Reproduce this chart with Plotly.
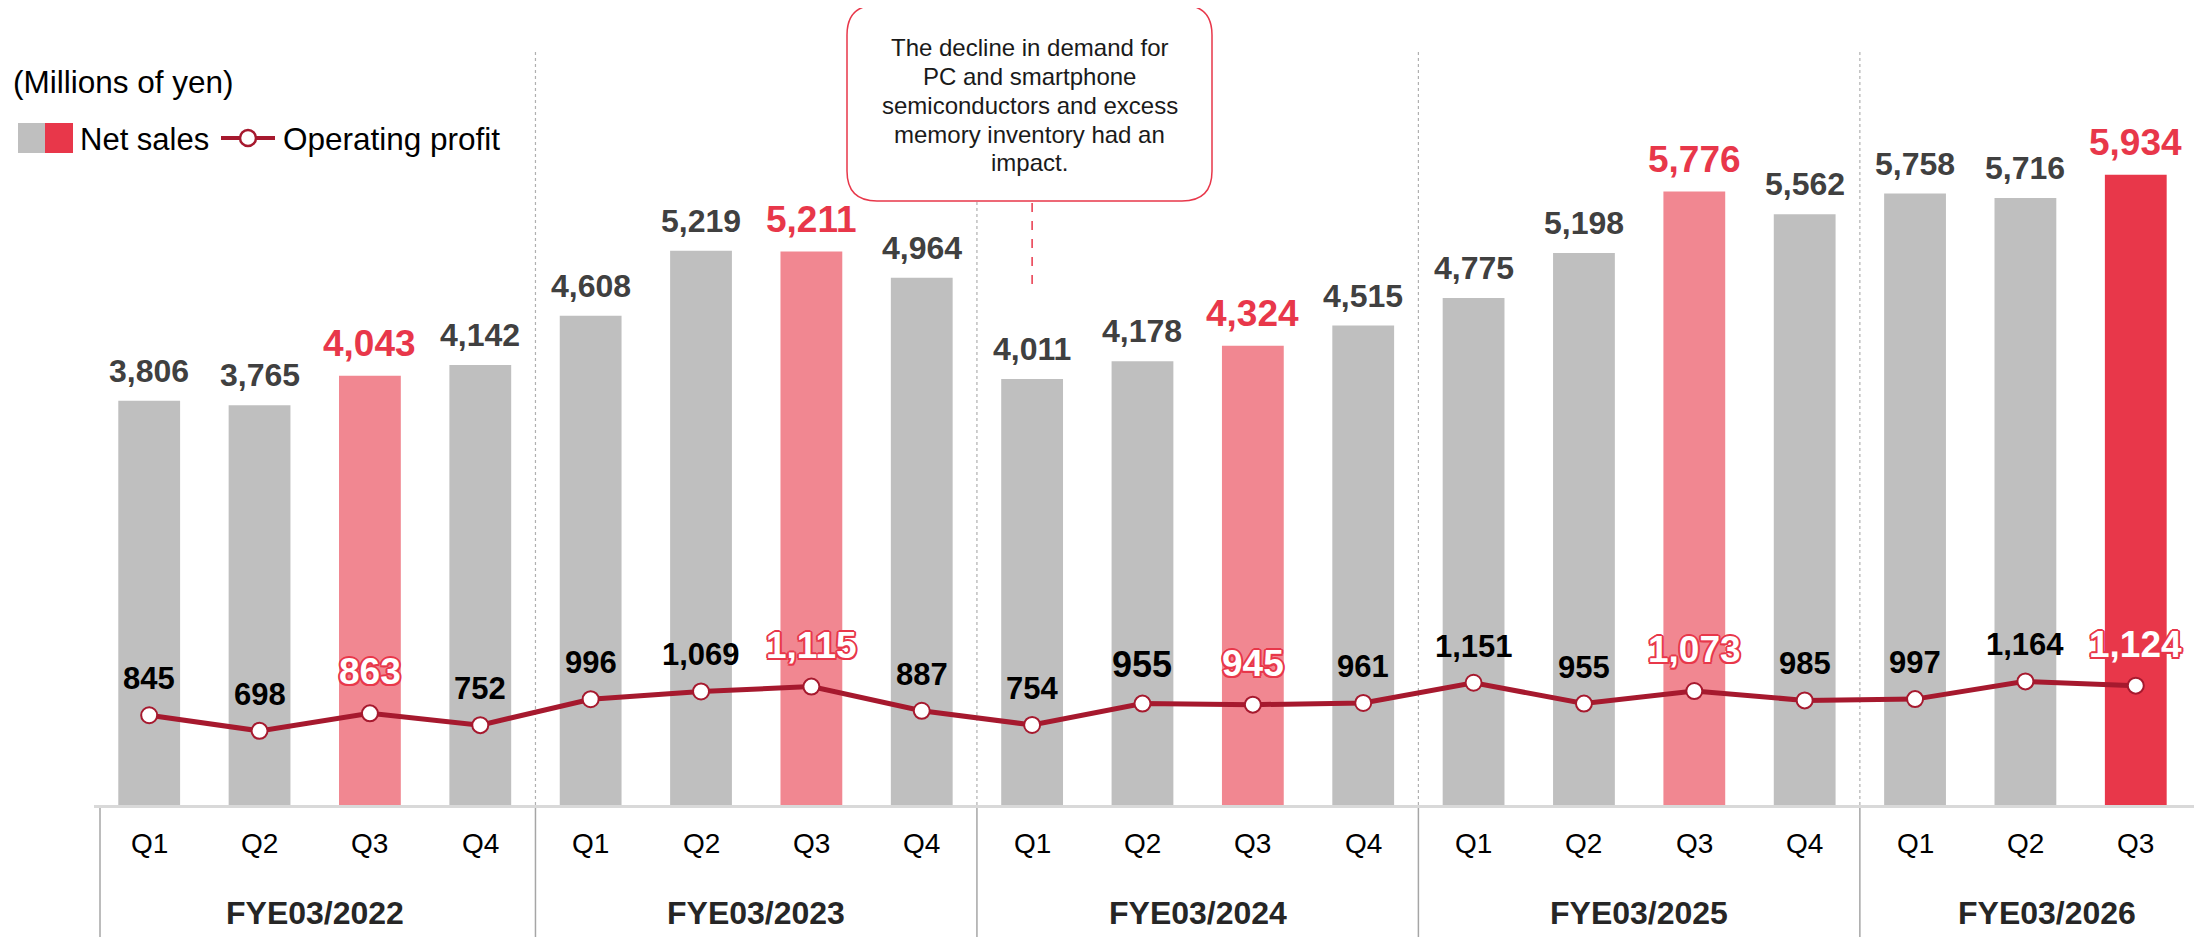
import plotly.graph_objects as go

# ---------------- data ----------------
fiscal_years = ["FYE03/2022", "FYE03/2023", "FYE03/2024", "FYE03/2025", "FYE03/2026"]
quarters_per_year = [4, 4, 4, 4, 3]
quarter_names = ["Q1", "Q2", "Q3", "Q4"]
net_sales = [3806, 3765, 4043, 4142,
             4608, 5219, 5211, 4964,
             4011, 4178, 4324, 4515,
             4775, 5198, 5776, 5562,
             5758, 5716, 5934]
operating_profit = [845, 698, 863, 752,
                    996, 1069, 1115, 887,
                    754, 955, 945, 961,
                    1151, 955, 1073, 985,
                    997, 1164, 1124]
callout_lines = ["The decline in demand for", "PC and smartphone",
                 "semiconductors and excess", "memory inventory had an", "impact."]
unit_label = "(Millions of yen)"
legend_sales = "Net sales"
legend_profit = "Operating profit"

# ---------------- styling ----------------
FONT = "Liberation Sans, Arial, sans-serif"
GRAY = "#BFBFBF"
LIGHT_RED = "#F18791"
RED = "#E8374A"
LINE_RED = "#A6192E"
LABEL_GRAY = "#404040"
SEP = "#A6A6A6"

OFF = 8  # page body margin compensation
W, H = 2202 - OFF, 937 - OFF
PL, PR, PT, PB = 94 - OFF, 2202 - OFF, 0, 805 - OFF  # plot area in figure pixels
X0, X1 = -0.5, 18.6
Y1 = PB / 0.1062

def px_x(p):  # p: reference page pixel
    return ((p - OFF) - PL) / (PR - PL)

def px_y(p):
    return (PB - (p - OFF)) / (PB - PT)

def idx_paper(i):
    return (i - X0) / (X1 - X0)

# categories
cats, q_labels, year_of = [], [], []
for y, n in zip(fiscal_years, quarters_per_year):
    for q in quarter_names[:n]:
        cats.append(f"{y} {q}")
        q_labels.append(q)
        year_of.append(y)
N = len(cats)
latest = N - 1
is_q3 = [q == "Q3" for q in q_labels]

bar_colors = []
for i in range(N):
    if i == latest:
        bar_colors.append(RED)
    elif is_q3[i]:
        bar_colors.append(LIGHT_RED)
    else:
        bar_colors.append(GRAY)

fig = go.Figure()
fig.add_trace(go.Bar(x=cats, y=net_sales, marker=dict(color=bar_colors, line=dict(width=0)),
                     width=0.56, showlegend=False, hoverinfo="skip"))
fig.add_trace(go.Scatter(x=cats, y=operating_profit, mode="lines+markers",
                         line=dict(color=LINE_RED, width=5),
                         marker=dict(size=16, color="white", line=dict(color=LINE_RED, width=2)),
                         showlegend=False, hoverinfo="skip"))

annotations = []
outline = ", ".join(f"{dx}px {dy}px 0 {RED}" for dx, dy in
                    [(-2, 0), (2, 0), (0, -2), (0, 2), (-1.5, -1.5), (1.5, -1.5), (-1.5, 1.5), (1.5, 1.5)])

# bar value labels
for i in range(N):
    red = is_q3[i] or i == latest
    annotations.append(dict(x=cats[i], y=net_sales[i], xref="x", yref="y", text=f"{net_sales[i]:,}",
                            showarrow=False, yanchor="bottom", yshift=10,
                            font=dict(family=FONT, size=37 if red else 32,
                                      color=RED if red else LABEL_GRAY, weight="bold")))
# operating profit labels
for i in range(N):
    red = is_q3[i] or i == latest
    size = 37 if red else 31
    if year_of[i] == "FYE03/2024" and q_labels[i] == "Q2":
        size = 36
    f = dict(family=FONT, size=size, color="white" if red else "black", weight="bold")
    if red:
        f["shadow"] = outline
    annotations.append(dict(x=cats[i], y=operating_profit[i], xref="x", yref="y",
                            text=f"{operating_profit[i]:,}", showarrow=False, yanchor="bottom",
                            yshift=19 if red else 17, font=f))
# quarter tick labels
for i in range(N):
    annotations.append(dict(x=idx_paper(i), y=px_y(843), xref="paper", yref="paper", text=q_labels[i],
                            showarrow=False, xanchor="center", yanchor="middle",
                            font=dict(family=FONT, size=28, color="black")))
# year labels and separators
shapes = []
start = 0
bounds = []
for y, n in zip(fiscal_years, quarters_per_year):
    mid = start + (n - 1) / 2 + (0.2 if n < 4 else 0)
    annotations.append(dict(x=idx_paper(mid), y=px_y(913), xref="paper", yref="paper", text=y,
                            showarrow=False, xanchor="center", yanchor="middle",
                            font=dict(family=FONT, size=32, color="#262626", weight="bold")))
    bounds.append(start - 0.5)
    start += n

for k, b in enumerate(bounds):
    xb = idx_paper(b) if k > 0 else px_x(100)
    shapes.append(dict(type="line", xref="paper", yref="paper", x0=xb, x1=xb,
                       y0=px_y(805), y1=px_y(940), line=dict(color=SEP, width=1.5), layer="below"))
    if k > 0:
        shapes.append(dict(type="line", xref="paper", yref="paper", x0=xb, x1=xb,
                           y0=px_y(52), y1=px_y(805), line=dict(color="#B0B0B0", width=1.2, dash="dot"),
                           layer="below"))

# callout box (rounded)
bx0, bx1, by0, by1, r = 847, 1212, 5, 201, 30
def P(x, y):
    return f"{px_x(x):.6f},{px_y(y):.6f}"
path = (f"M {P(bx0 + r, by0)} L {P(bx1 - r, by0)} Q {P(bx1, by0)} {P(bx1, by0 + r)} "
        f"L {P(bx1, by1 - r)} Q {P(bx1, by1)} {P(bx1 - r, by1)} "
        f"L {P(bx0 + r, by1)} Q {P(bx0, by1)} {P(bx0, by1 - r)} "
        f"L {P(bx0, by0 + r)} Q {P(bx0, by0)} {P(bx0 + r, by0)} Z")
shapes.append(dict(type="path", xref="paper", yref="paper", path=path,
                   fillcolor="white", line=dict(color=RED, width=1.5), layer="above"))
callout_idx = fiscal_years.index("FYE03/2024") * 4
shapes.append(dict(type="line", xref="paper", yref="paper", x0=idx_paper(callout_idx), x1=idx_paper(callout_idx),
                   y0=px_y(203), y1=px_y(290), line=dict(color=RED, width=1.5, dash="dash")))
for k, line in enumerate(callout_lines):
    annotations.append(dict(x=px_x((bx0 + bx1) / 2), y=px_y(47 + 29 * k), xref="paper", yref="paper",
                            text=line, showarrow=False, xanchor="center", yanchor="middle",
                            font=dict(family=FONT, size=24, color="#1a1a1a")))

# legend (manual)
annotations.append(dict(x=px_x(11), y=px_y(82), xref="paper", yref="paper", text=unit_label,
                        showarrow=False, xanchor="left", yanchor="middle",
                        font=dict(family=FONT, size=31.5, color="black")))
shapes.append(dict(type="rect", xref="paper", yref="paper", x0=px_x(18), x1=px_x(45),
                   y0=px_y(153), y1=px_y(123), fillcolor=GRAY, line=dict(width=0)))
shapes.append(dict(type="rect", xref="paper", yref="paper", x0=px_x(45), x1=px_x(73),
                   y0=px_y(153), y1=px_y(123), fillcolor=RED, line=dict(width=0)))
annotations.append(dict(x=px_x(78), y=px_y(139), xref="paper", yref="paper", text=legend_sales,
                        showarrow=False, xanchor="left", yanchor="middle",
                        font=dict(family=FONT, size=31, color="black")))
shapes.append(dict(type="line", xref="paper", yref="paper", x0=px_x(221), x1=px_x(275),
                   y0=px_y(138), y1=px_y(138), line=dict(color=LINE_RED, width=4)))
shapes.append(dict(type="circle", xref="paper", yref="paper", x0=px_x(240), x1=px_x(256),
                   y0=px_y(146), y1=px_y(130), fillcolor="white", line=dict(color=LINE_RED, width=2.5)))
annotations.append(dict(x=px_x(281), y=px_y(139), xref="paper", yref="paper", text=legend_profit,
                        showarrow=False, xanchor="left", yanchor="middle",
                        font=dict(family=FONT, size=31.5, color="black")))

fig.update_layout(
    width=W, height=H,
    margin=dict(l=PL, r=W - PR, t=PT, b=H - PB, pad=0),
    paper_bgcolor="white", plot_bgcolor="white",
    xaxis=dict(type="category", range=[X0, X1], showticklabels=False, ticks="",
               showgrid=False, zeroline=False, showline=True, linecolor="#D9D9D9", linewidth=3),
    yaxis=dict(range=[0, Y1], visible=False, showgrid=False, zeroline=False),
    annotations=annotations, shapes=shapes, bargap=0.44, font=dict(family=FONT),
)

fig.write_html("out.html")
